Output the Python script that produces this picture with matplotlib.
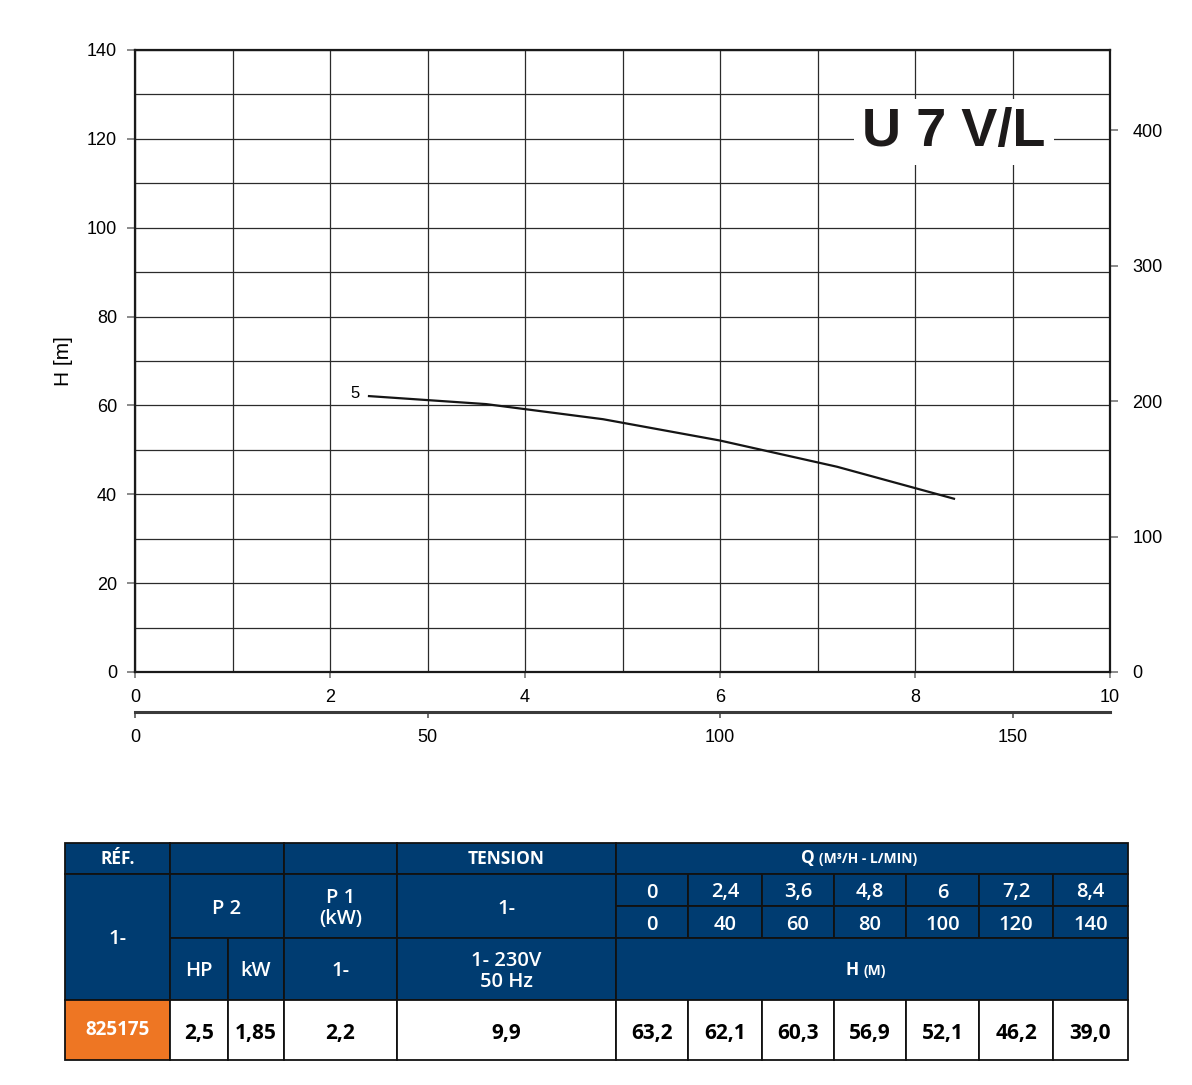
import matplotlib.pyplot as plt
import numpy as np
from matplotlib.patches import Rectangle

# curve data (Q in m3/h, H in m)
q_m3h = [2.4, 3.6, 4.8, 6, 7.2, 8.4]
h_m = [62.1, 60.3, 56.9, 52.1, 46.2, 39.0]
curve_label = "5"
model = "U 7 V/L"

# table data
q_m3h_labels = ["0", "2,4", "3,6", "4,8", "6", "7,2", "8,4"]
q_lmin_labels = ["0", "40", "60", "80", "100", "120", "140"]
h_labels = ["63,2", "62,1", "60,3", "56,9", "52,1", "46,2", "39,0"]
ref = "825175"
p2_hp = "2,5"
p2_kw = "1,85"
p1_kw = "2,2"
tension = "9,9"

W, H = 1192, 1085
fig = plt.figure(figsize=(W / 100, H / 100), dpi=100)

tick_font = "Liberation Sans"
ax = fig.add_axes([135 / W, 1 - 672 / H, 975 / W, 622 / H])
ax.set_xlim(0, 10)
ax.set_ylim(0, 140)
ax.set_xticks(np.arange(0, 11, 2))
ax.set_yticks(np.arange(0, 141, 20))
ax.set_xticks(np.arange(0, 11, 1), minor=True)
ax.set_yticks(np.arange(0, 141, 10), minor=True)
ax.grid(which="both", color="#2b2b2b", lw=0.9)
ax.tick_params(which="minor", length=0)
ax.tick_params(axis="x", which="major", direction="out", length=4, width=1.2,
               pad=8, labelsize=13, color="#777777")
ax.tick_params(axis="y", which="major", direction="out", length=6, width=1.2,
               pad=7, labelsize=13, color="#777777")
for lab in ax.get_xticklabels() + ax.get_yticklabels():
    lab.set_fontfamily(tick_font)
for s in ax.spines.values():
    s.set_linewidth(1.6)
    s.set_color("#1a1a1a")
ax.set_ylabel("H [m]", fontsize=15, fontfamily=tick_font, labelpad=10)

ax.plot(q_m3h, h_m, color="#151515", lw=1.6)
ax.text(2.3, h_m[0] + 0.6, curve_label, fontsize=12, fontfamily=tick_font,
        ha="right", va="center")

ax.text(8.4, 121.5, model, fontsize=39, fontweight="bold", fontfamily="Liberation Sans",
        ha="center", va="center", color="#1d1a1a",
        bbox=dict(facecolor="white", edgecolor="none", pad=6))

# right axis in feet
ry = ax.secondary_yaxis("right", functions=(lambda m: m * 3.28084, lambda f: f / 3.28084))
ry.set_yticks([0, 100, 200, 300, 400])
ry.tick_params(direction="out", length=6, width=1.2, pad=10, labelsize=13, color="#777777")
ry.spines["right"].set_visible(False)
for lab in ry.get_yticklabels():
    lab.set_fontfamily(tick_font)

# second x axis in l/min
bx = ax.secondary_xaxis(-(712 - 672) / 622,
                        functions=(lambda q: q * 1000 / 60, lambda l: l * 60 / 1000))
bx.set_xticks([0, 50, 100, 150])
bx.spines["bottom"].set_linewidth(2.2)
bx.spines["bottom"].set_color("#3a3a3a")
bx.tick_params(direction="out", length=4, width=1.2, pad=8, labelsize=13, color="#555555")
for lab in bx.get_xticklabels():
    lab.set_fontfamily(tick_font)

# table
tab = fig.add_axes([0, 0, 1, 1])
tab.set_xlim(0, W)
tab.set_ylim(H, 0)
tab.axis("off")
blue = "#003c71"
orange = "#ee7623"
tfont = "Open Sans"


def cell(x0, x1, y0, y1, txt="", fc=blue, tc="white", size=13, weight="bold", dy=2.5):
    tab.add_patch(Rectangle((x0, y0), x1 - x0, y1 - y0, facecolor=fc,
                            edgecolor="#111111", lw=1.3))
    if txt:
        tab.text((x0 + x1) / 2, (y0 + y1) / 2 + dy, txt, ha="center", va="center",
                 color=tc, fontsize=size, fontweight=weight, fontfamily=tfont,
                 linespacing=1.1)


cols = [616, 688, 762, 834, 906, 979, 1053, 1128]
mid = 14.5
# header row
cell(65, 170, 843, 874, "RÉF.", size=12.5, dy=0.5)
cell(170, 284, 843, 874)
cell(284, 397, 843, 874)
cell(397, 616, 843, 874, "TENSION", size=12.5, dy=0.5)
cell(616, 1128, 843, 874)
tab.text(815, 858.5, "Q", ha="right", va="center", color="white", fontsize=12.5,
         fontweight="bold", fontfamily=tfont)
tab.text(819, 859.5, "(M³/H - L/MIN)", ha="left", va="center", color="white",
         fontsize=10, fontweight="bold", fontfamily=tfont)
# second block
cell(65, 170, 874, 1000, "1-", size=mid, weight="semibold")
cell(170, 284, 874, 938, "P 2", size=mid, weight="semibold")
cell(284, 397, 874, 938, "P 1\n(kW)", size=mid, weight="semibold")
cell(397, 616, 874, 938, "1-", size=mid, weight="semibold")
for i in range(7):
    cell(cols[i], cols[i + 1], 874, 906, q_m3h_labels[i], size=mid, weight="semibold")
    cell(cols[i], cols[i + 1], 906, 938, q_lmin_labels[i], size=mid, weight="semibold")
cell(170, 228, 938, 1000, "HP", size=mid, weight="semibold")
cell(228, 284, 938, 1000, "kW", size=mid, weight="semibold")
cell(284, 397, 938, 1000, "1-", size=mid, weight="semibold")
cell(397, 616, 938, 1000, "1- 230V\n50 Hz", size=mid, weight="semibold")
cell(616, 1128, 938, 1000)
tab.text(859, 970, "H", ha="right", va="center", color="white", fontsize=12.5,
         fontweight="bold", fontfamily=tfont)
tab.text(863, 971, "(M)", ha="left", va="center", color="white",
         fontsize=10, fontweight="bold", fontfamily=tfont)
# data row
cell(65, 170, 1000, 1060, ref, fc=orange, size=13.5, dy=0)
cell(170, 228, 1000, 1060, p2_hp, fc="white", tc="black", size=15, dy=4)
cell(228, 284, 1000, 1060, p2_kw, fc="white", tc="black", size=15, dy=4)
cell(284, 397, 1000, 1060, p1_kw, fc="white", tc="black", size=15, dy=4)
cell(397, 616, 1000, 1060, tension, fc="white", tc="black", size=15, dy=4)
for i in range(7):
    cell(cols[i], cols[i + 1], 1000, 1060, h_labels[i], fc="white", tc="black", size=15, dy=4)

fig.savefig("out.png", dpi=100)
